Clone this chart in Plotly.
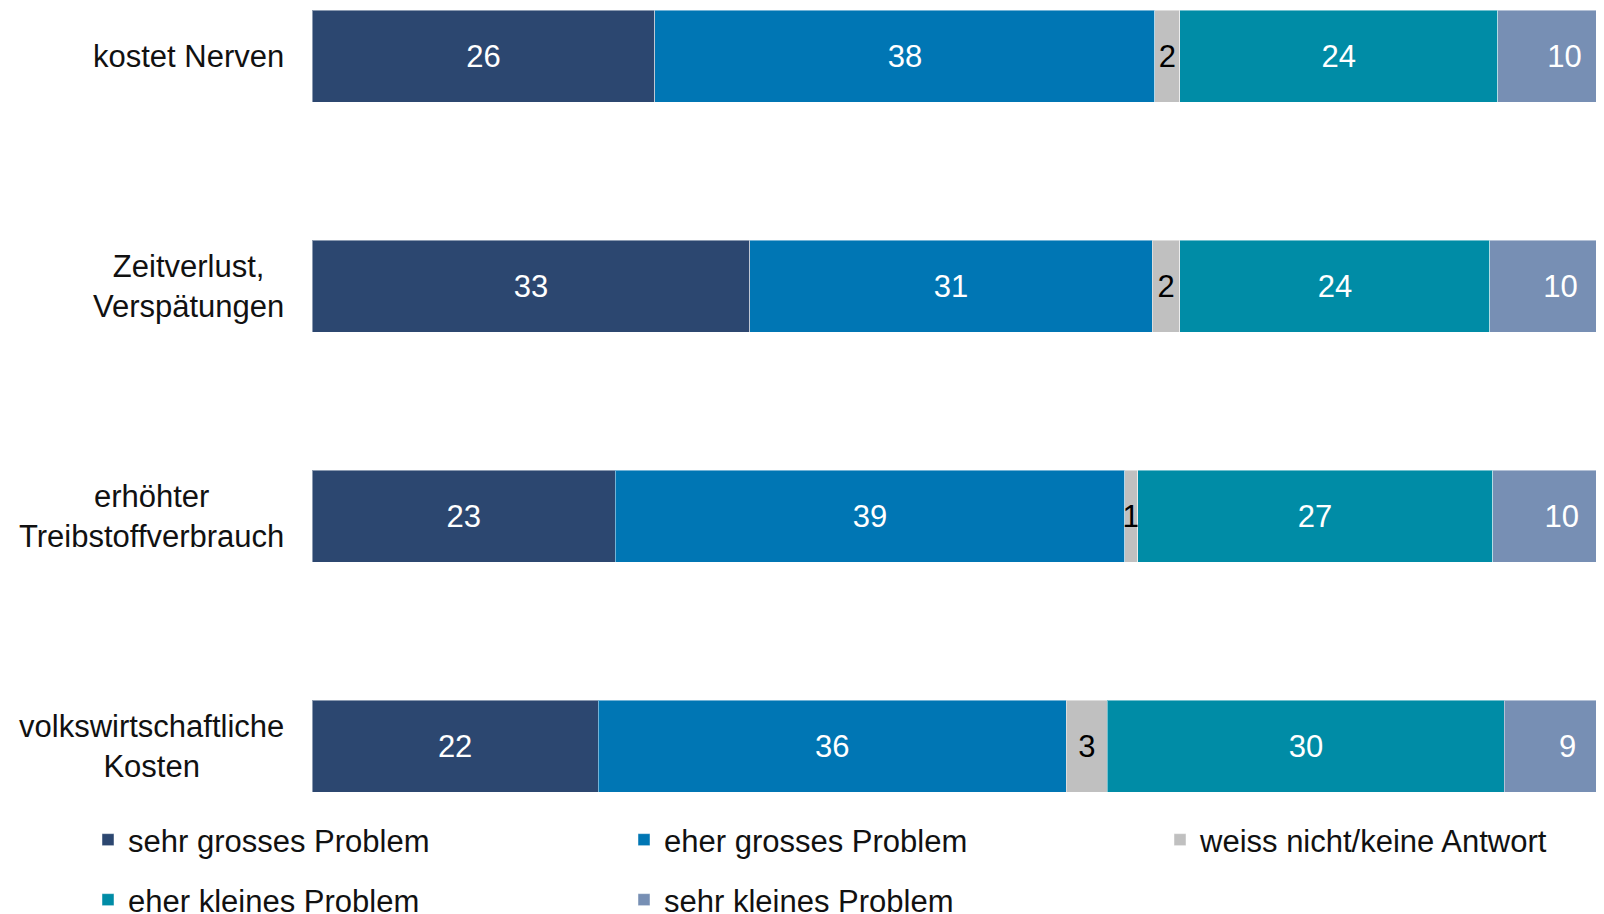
import plotly.graph_objects as go

categories = ["kostet Nerven", "Zeitverlust,<br>Verspätungen", "erhöhter<br>Treibstoffverbrauch", "volkswirtschaftliche<br>Kosten"]
series_names = ["sehr grosses Problem", "eher grosses Problem", "weiss nicht/keine Antwort", "eher kleines Problem", "sehr kleines Problem"]

# bar lengths (percent)
sehr_gross = [26.0, 33.2, 23.0, 21.7]
eher_gross = [37.9, 30.5, 38.6, 35.5]
weiss_nicht = [1.9, 2.1, 1.0, 3.1]
eher_klein = [24.1, 23.5, 26.9, 30.1]
sehr_klein = [10.1, 10.7, 10.5, 9.6]

# printed (rounded) labels
sehr_gross_lbl = [26, 33, 23, 22]
eher_gross_lbl = [38, 31, 39, 36]
weiss_nicht_lbl = [2, 2, 1, 3]
eher_klein_lbl = [24, 24, 27, 30]
sehr_klein_lbl = [10, 10, 10, 9]

series_values = [sehr_gross, eher_gross, weiss_nicht, eher_klein, sehr_klein]
series_labels = [sehr_gross_lbl, eher_gross_lbl, weiss_nicht_lbl, eher_klein_lbl, sehr_klein_lbl]
colors = ["#2C4770", "#0076B4", "#C0C0C0", "#008CA6", "#778FB4"]
text_colors = ["white", "white", "black", "white", "white"]
legend_ids = ["legend", "legend2", "legend3", "legend4", "legend5"]

FONT = "Liberation Sans, Arial, sans-serif"
W, H = 1623, 914

fig = go.Figure()
for name, vals, lbls, col, tcol, lg in zip(series_names, series_values, series_labels,
                                           colors, text_colors, legend_ids):
    fig.add_trace(go.Bar(
        y=categories, x=vals, name=name, orientation="h",
        marker=dict(color=col, line=dict(color="rgba(255,255,255,0.45)", width=1)),
        text=lbls, textposition="inside", insidetextanchor="middle",
        textfont=dict(color=tcol, size=31, family=FONT),
        cliponaxis=False, legend=lg,
    ))

for c in categories:
    fig.add_annotation(
        x=0, xref="paper", y=c, yref="y", text=c, showarrow=False,
        xanchor="right", yanchor="middle", align="center", xshift=-26,
        font=dict(size=31, color="#111111", family=FONT),
    )

legend_common = dict(
    orientation="h", xref="container", yref="container",
    xanchor="left", yanchor="middle",
    font=dict(size=31, color="#111111", family=FONT),
    bgcolor="rgba(0,0,0,0)",
)
# legend item positions (pixels from the top-left of the figure)
legend_px = [(80, 832), (616, 832), (1152, 832), (80, 892), (616, 892)]
legends = {}
for lg, (px, py) in zip(legend_ids, legend_px):
    legends[lg] = dict(x=px / W, y=1 - py / H, **legend_common)

fig.update_layout(
    width=W, height=H,
    margin=dict(l=304, r=0, t=0, b=122, pad=0),
    barmode="stack", bargap=0.6,
    plot_bgcolor="white", paper_bgcolor="white",
    font=dict(family=FONT, size=31, color="#111111"),
    uniformtext=dict(mode="show", minsize=31),
    xaxis=dict(range=[0, 100], visible=False, fixedrange=True),
    yaxis=dict(range=[3.2348, -0.2087], showticklabels=False, showgrid=False,
               zeroline=False, showline=False, ticks="", fixedrange=True),
    showlegend=True,
    **legends,
)

fig.write_html("out.html")
